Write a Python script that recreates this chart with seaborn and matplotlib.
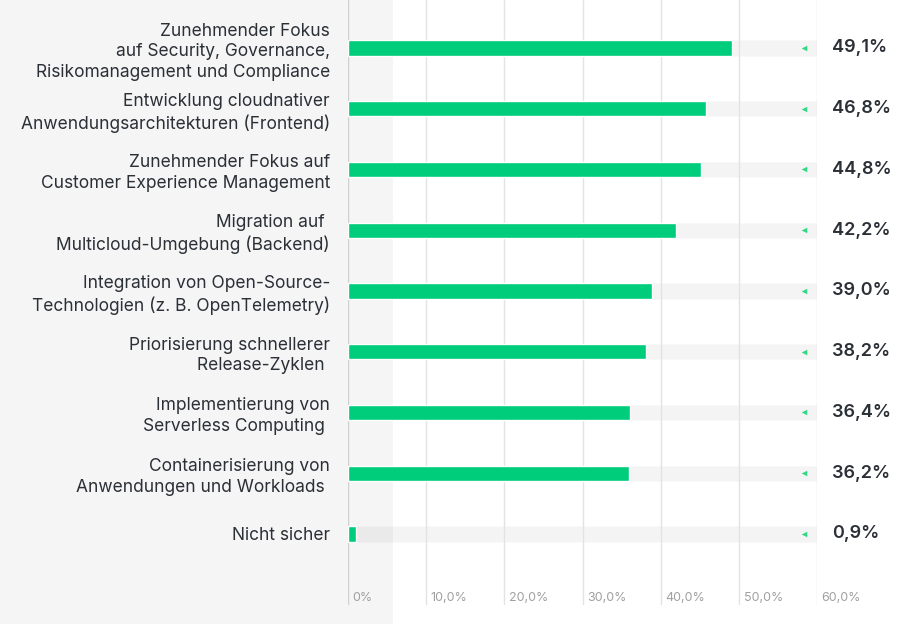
import numpy as np
import pandas as pd
import seaborn as sns
import matplotlib.pyplot as plt
from matplotlib.patches import Rectangle

# data
labels = [
    "Zunehmender Fokus\nauf Security, Governance,\nRisikomanagement und Compliance",
    "Entwicklung cloudnativer\nAnwendungsarchitekturen (Frontend)",
    "Zunehmender Fokus auf\nCustomer Experience Management",
    "Migration auf \nMulticloud-Umgebung (Backend)",
    "Integration von Open-Source-\nTechnologien (z. B. OpenTelemetry)",
    "Priorisierung schnellerer\nRelease-Zyklen ",
    "Implementierung von\nServerless Computing ",
    "Containerisierung von\nAnwendungen und Workloads ",
    "Nicht sicher",
]
# printed values
values = [49.1, 46.8, 44.8, 42.2, 39.0, 38.2, 36.4, 36.2, 0.9]
# bar lengths as drawn in the picture
bar_values = [49.1, 45.8, 45.2, 41.9, 38.9, 38.1, 36.1, 35.9, 1.0]
ticks = [0, 10, 20, 30, 40, 50, 60]
tick_labels = ["0%", "10,0%", "20,0%", "30,0%", "40,0%", "50,0%", "60,0%"]
max_value = 60

df = pd.DataFrame({"label": labels, "value": bar_values,
                   "track": [max_value] * len(values)})

sns.set_style("white")
plt.rcParams['font.family'] = ['Inter', 'DejaVu Sans']

green = "#00cd7c"
text_color = "#2b2f36"

fig = plt.figure(figsize=(9, 6.24), dpi=100)
fig.patch.set_facecolor("white")

# grey panel behind the category labels
fig.patches.append(Rectangle((0, 0), 393 / 900, 1, transform=fig.transFigure,
                             facecolor="#f5f5f5", edgecolor="none", zorder=-1))

ax = fig.add_axes([348 / 900, 19 / 624, (817 - 348) / 900, 605 / 624])
ax.set_zorder(1)
ax.patch.set_alpha(0)

# background track
sns.barplot(data=df, y="label", x="track", orient="h", color="black", alpha=0.045,
            width=0.25, ax=ax, zorder=1)

# gridlines
for t in ticks:
    ax.axvline(t, color="#d0d0d0" if t == 0 else "#e3e3e3", lw=1, zorder=2)

# values
sns.barplot(data=df, y="label", x="value", orient="h", color=green, saturation=1,
            width=0.25, ax=ax, zorder=3)

ypos = np.arange(len(values))
ax.scatter([58.4] * len(values), ypos, marker="<", s=16, color="#2fd883",
           linewidths=0, zorder=4)

for y, v in zip(ypos, values):
    ax.text(61.9, y, f"{v:.1f}".replace(".", ",") + "%", va="center", ha="left",
            fontsize=13, fontweight="semibold", color=text_color, clip_on=False)

for t, tl in zip(ticks, tick_labels):
    ax.text(t + 0.6, 0.012, tl, transform=ax.get_xaxis_transform(), ha="left",
            va="center", fontsize=9, color="#a0a0a0")

ax.set_xlim(0, max_value)
ax.set_ylim(9.17, -0.79)
ax.set_xticks([])
ax.set_xlabel("")
ax.set_ylabel("")
ax.set_yticks(ypos)
ax.set_yticklabels(labels, fontsize=12.5, color=text_color, linespacing=1.28)
ax.tick_params(axis="y", length=0, pad=13)
sns.despine(ax=ax, left=True, bottom=True)

fig.savefig("out.png", dpi=100)
